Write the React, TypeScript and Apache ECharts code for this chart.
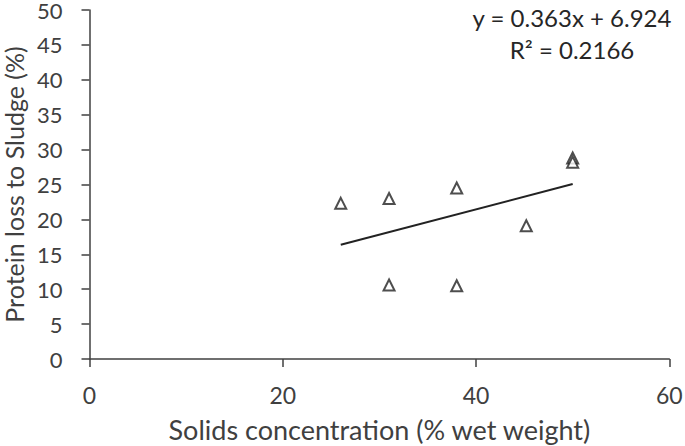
import React, { useEffect, useRef } from "react";
import * as echarts from "echarts";

const solids = [26, 31, 31, 38, 38, 45.2, 50, 50];
const proteinLoss = [22.3, 23.0, 10.6, 24.5, 10.5, 19.1, 28.8, 28.2];
const trendX = [26, 50];
const trendY = [16.36, 25.07];
const equationLines = ["y = 0.363x + 6.924", "R² = 0.2166"];
const xTitle = "Solids concentration (% wet weight)";
const yTitle = "Protein loss to Sludge (%)";

const FONT = "Lato";
const TEXT = "#404040";
const AXIS = "#404040";

export default function App() {
  const ref = useRef<HTMLDivElement>(null);
  useEffect(() => {
    if (!ref.current) return;
    const chart = echarts.init(ref.current, null, { renderer: "svg" });
    chart.setOption({
      animation: false,
      backgroundColor: "#ffffff",
      grid: {
        left: 89.5,
        right: 15.7,
        top: 10,
        bottom: 87,
        containLabel: false,
        outerBoundsMode: "none",
      },
      xAxis: {
        type: "value",
        min: 0,
        max: 60,
        interval: 20,
        name: xTitle,
        nameLocation: "middle",
        nameGap: 57,
        nameTextStyle: { fontFamily: FONT, fontSize: 27, color: TEXT },
        axisLine: { show: true, lineStyle: { color: AXIS, width: 1.5 } },
        axisTick: { show: true, length: 8, lineStyle: { color: AXIS, width: 1.5 } },
        axisLabel: { fontFamily: FONT, fontSize: 23, color: TEXT, margin: 24 },
        splitLine: { show: false },
      },
      yAxis: {
        type: "value",
        min: 0,
        max: 50,
        interval: 5,
        name: yTitle,
        nameLocation: "middle",
        nameGap: 62,
        nameTextStyle: { fontFamily: FONT, fontSize: 25, lineHeight: 24, color: TEXT },
        axisLine: { show: true, lineStyle: { color: AXIS, width: 1.5 } },
        axisTick: { show: true, length: 8, lineStyle: { color: AXIS, width: 1.5 } },
        axisLabel: {
          fontFamily: FONT,
          fontSize: 22,
          lineHeight: 16,
          padding: [4, 0, 0, 0],
          color: TEXT,
          margin: 27,
        },
        splitLine: { show: false },
      },
      series: [
        {
          type: "scatter",
          data: solids.map((x, i) => [x, proteinLoss[i]]),
          symbol: "triangle",
          symbolSize: [11, 11],
          itemStyle: { color: "#ffffff", borderColor: "#222222", borderWidth: 2 },
          z: 3,
        },
        {
          type: "line",
          data: trendX.map((x, i) => [x, trendY[i]]),
          showSymbol: false,
          symbol: "none",
          lineStyle: { color: "#222222", width: 2 },
          z: 2,
        },
      ],
      graphic: [
        {
          type: "text",
          x: 572,
          y: 17.5,
          style: {
            text: equationLines[0],
            fontFamily: FONT,
            fontSize: 24,
            fill: "#262626",
            textAlign: "center",
            textVerticalAlign: "middle",
          },
        },
        {
          type: "text",
          x: 572,
          y: 49.5,
          style: {
            text: equationLines[1],
            fontFamily: FONT,
            fontSize: 24,
            fill: "#262626",
            textAlign: "center",
            textVerticalAlign: "middle",
          },
        },
      ],
    });
    return () => chart.dispose();
  }, []);
  return <div ref={ref} style={{ width: 685, height: 446, position: "absolute", left: 0, top: 0 }} />;
}
